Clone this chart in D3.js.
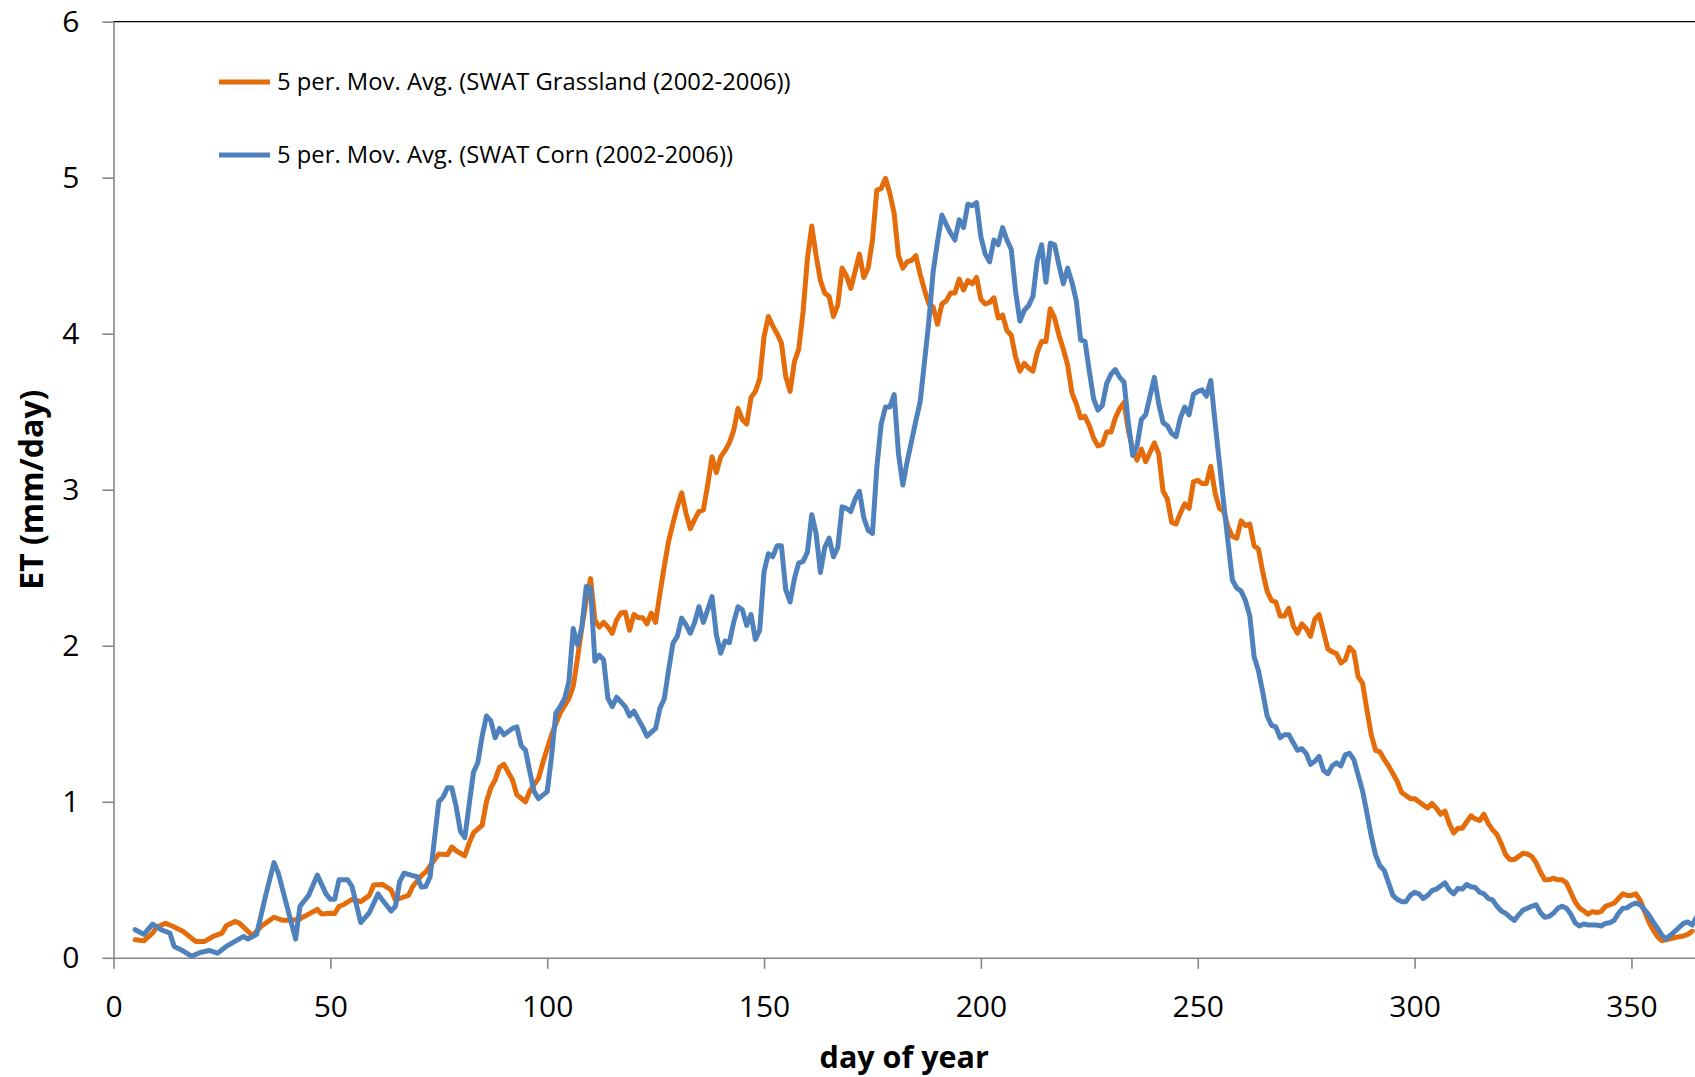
<!DOCTYPE html>
<html>
<head>
<meta charset="utf-8">
<script src="https://cdn.jsdelivr.net/npm/d3@7"></script>
<style>
  body { margin: 0; background: #fff; }
  text { font-family: "Open Sans", "Noto Sans", sans-serif; fill: #000; }
</style>
</head>
<body>
<div id="chart"></div>
<script>
// Set dimensions
const width = 1695;
const height = 1077;

// 5-day moving averages: [day of year, ET mm/day]
const grassland = [[5,0.115],[7,0.109],[9,0.158],[10,0.197],[12,0.222],[14,0.197],[16,0.17],[18,0.126],[19,0.105],[21,0.105],
  [23,0.137],[25,0.158],[26,0.205],[28,0.233],[29,0.222],[31,0.17],[32,0.141],[34,0.2],[37,0.26],[39,0.24],
  [41,0.24],[43,0.25],[45,0.28],[47,0.31],[48,0.28],[50,0.285],[51,0.284],[52,0.33],[53,0.34],[55,0.375],
  [57,0.36],[59,0.4],[60,0.467],[62,0.47],[64,0.435],[65,0.37],[66,0.38],[68,0.4],[69,0.457],[71,0.526],
  [72,0.55],[74,0.628],[75,0.665],[77,0.66],[78,0.71],[79,0.686],[81,0.654],[82,0.735],[83,0.8],[85,0.85],
  [86,1.0],[87,1.09],[88,1.14],[89,1.22],[90,1.24],[92,1.14],[93,1.045],[95,1.0],[96,1.07],[98,1.15],
  [99,1.25],[100,1.34],[101,1.43],[102,1.5],[103,1.57],[105,1.66],[106,1.74],[107,1.92],[108,2.12],[109,2.29],
  [110,2.43],[111,2.165],[112,2.12],[113,2.15],[114,2.12],[115,2.08],[116,2.165],[117,2.21],[118,2.215],[119,2.1],
  [120,2.2],[121,2.18],[122,2.18],[123,2.14],[124,2.21],[125,2.15],[126,2.336],[127,2.51],[128,2.67],[129,2.785],
  [130,2.89],[131,2.98],[132,2.85],[133,2.75],[134,2.81],[135,2.86],[136,2.87],[137,3.03],[138,3.21],[139,3.11],
  [140,3.21],[141,3.25],[142,3.3],[143,3.38],[144,3.52],[145,3.45],[146,3.42],[147,3.59],[148,3.63],[149,3.71],
  [150,3.98],[151,4.11],[152,4.05],[153,4.0],[154,3.94],[155,3.726],[156,3.63],[157,3.82],[158,3.9],[159,4.14],
  [160,4.48],[161,4.69],[162,4.5],[163,4.34],[164,4.26],[165,4.24],[166,4.11],[167,4.185],[168,4.42],[169,4.37],
  [170,4.29],[171,4.4],[172,4.51],[173,4.36],[174,4.42],[175,4.6],[176,4.92],[177,4.93],[178,4.996],[179,4.9],
  [180,4.77],[181,4.5],[182,4.42],[183,4.46],[184,4.47],[185,4.5],[186,4.38],[187,4.28],[188,4.19],[189,4.17],
  [190,4.06],[191,4.19],[192,4.21],[193,4.26],[194,4.26],[195,4.35],[196,4.28],[197,4.34],[198,4.32],[199,4.36],
  [200,4.22],[201,4.19],[202,4.2],[203,4.23],[204,4.1],[205,4.12],[206,4.02],[207,3.99],[208,3.85],[209,3.76],
  [210,3.81],[211,3.78],[212,3.76],[213,3.88],[214,3.95],[215,3.95],[216,4.16],[217,4.1],[218,3.99],[219,3.9],
  [220,3.8],[221,3.62],[222,3.55],[223,3.46],[224,3.47],[225,3.41],[226,3.33],[227,3.28],[228,3.29],[229,3.37],
  [230,3.37],[231,3.46],[232,3.52],[233,3.56],[234,3.38],[235,3.26],[236,3.19],[237,3.26],[238,3.18],[239,3.24],
  [240,3.3],[241,3.23],[242,2.99],[243,2.94],[244,2.79],[245,2.78],[246,2.85],[247,2.91],[248,2.88],[249,3.05],
  [250,3.06],[251,3.04],[252,3.04],[253,3.15],[254,2.98],[255,2.88],[256,2.86],[257,2.76],[258,2.7],[259,2.69],
  [260,2.8],[261,2.77],[262,2.78],[263,2.64],[264,2.62],[265,2.47],[266,2.35],[267,2.29],[268,2.28],[269,2.19],
  [270,2.19],[271,2.24],[272,2.13],[273,2.08],[274,2.14],[275,2.11],[276,2.06],[277,2.17],[278,2.2],[279,2.09],
  [280,1.98],[281,1.96],[282,1.95],[283,1.89],[284,1.91],[285,1.99],[286,1.96],[287,1.8],[288,1.76],[289,1.59],
  [290,1.43],[291,1.33],[292,1.32],[293,1.27],[294,1.23],[295,1.18],[296,1.13],[297,1.06],[298,1.04],[299,1.02],
  [300,1.02],[301,1.0],[302,0.98],[303,0.96],[304,0.99],[305,0.96],[306,0.92],[307,0.94],[308,0.86],[309,0.8],
  [310,0.83],[311,0.83],[312,0.87],[313,0.91],[314,0.89],[315,0.88],[316,0.92],[317,0.86],[318,0.82],[319,0.79],
  [320,0.73],[321,0.66],[322,0.63],[323,0.63],[324,0.65],[325,0.67],[326,0.665],[327,0.65],[328,0.61],[329,0.55],
  [330,0.5],[331,0.5],[332,0.51],[333,0.5],[334,0.5],[335,0.48],[336,0.42],[337,0.36],[338,0.32],[339,0.3],
  [340,0.28],[341,0.296],[342,0.29],[343,0.296],[344,0.33],[345,0.34],[346,0.35],[347,0.38],[348,0.41],[349,0.4],
  [350,0.4],[351,0.41],[352,0.37],[353,0.3],[354,0.23],[355,0.18],[356,0.135],[357,0.11],[358,0.115],[360,0.13],
  [361,0.135],[362,0.14],[363,0.15],[364,0.17]];

const corn = [[5,0.18],[7,0.15],[9,0.216],[11,0.18],[13,0.158],[14,0.073],[16,0.045],[18,0.01],[20,0.034],[22,0.047],
  [24,0.03],[26,0.073],[28,0.105],[30,0.137],[31,0.12],[33,0.15],[35,0.39],[37,0.61],[38,0.543],[40,0.33],
  [42,0.12],[43,0.33],[45,0.4],[47,0.53],[49,0.41],[50,0.375],[51,0.375],[52,0.5],[54,0.5],[55,0.457],
  [57,0.226],[59,0.29],[61,0.41],[62,0.37],[64,0.3],[65,0.33],[66,0.49],[67,0.543],[69,0.526],[70,0.52],
  [71,0.453],[72,0.457],[73,0.52],[75,1.0],[76,1.03],[77,1.09],[78,1.09],[79,0.97],[80,0.81],[81,0.77],
  [83,1.19],[84,1.25],[85,1.42],[86,1.55],[87,1.52],[88,1.41],[89,1.47],[90,1.43],[92,1.47],[93,1.48],
  [94,1.36],[95,1.33],[96,1.19],[97,1.065],[98,1.02],[100,1.065],[101,1.29],[102,1.57],[103,1.61],[104,1.66],
  [105,1.77],[106,2.11],[107,2.005],[108,2.12],[109,2.38],[110,2.37],[111,1.9],[112,1.94],[113,1.91],[114,1.663],
  [115,1.61],[116,1.67],[117,1.64],[118,1.61],[119,1.55],[120,1.58],[122,1.48],[123,1.42],[125,1.47],[126,1.6],
  [127,1.66],[128,1.845],[129,2.016],[130,2.06],[131,2.177],[132,2.134],[133,2.08],[134,2.15],[135,2.25],[136,2.15],
  [137,2.23],[138,2.315],[139,2.07],[140,1.952],[141,2.03],[142,2.02],[143,2.15],[144,2.25],[145,2.23],[146,2.13],
  [147,2.2],[148,2.04],[149,2.1],[150,2.475],[151,2.59],[152,2.57],[153,2.64],[154,2.64],[155,2.36],[156,2.28],
  [157,2.43],[158,2.53],[159,2.54],[160,2.6],[161,2.84],[162,2.72],[163,2.47],[164,2.63],[165,2.69],[166,2.57],
  [167,2.63],[168,2.89],[169,2.88],[170,2.86],[171,2.94],[172,2.99],[173,2.82],[174,2.74],[175,2.72],[176,3.14],
  [177,3.42],[178,3.53],[179,3.53],[180,3.61],[181,3.23],[182,3.03],[183,3.18],[184,3.31],[185,3.44],[186,3.565],
  [187,3.82],[188,4.08],[189,4.4],[190,4.59],[191,4.76],[192,4.7],[193,4.645],[194,4.6],[195,4.73],[196,4.68],
  [197,4.83],[198,4.82],[199,4.84],[200,4.62],[201,4.51],[202,4.46],[203,4.6],[204,4.57],[205,4.68],[206,4.6],
  [207,4.54],[208,4.27],[209,4.08],[210,4.15],[211,4.18],[212,4.24],[213,4.47],[214,4.57],[215,4.33],[216,4.58],
  [217,4.57],[218,4.44],[219,4.32],[220,4.42],[221,4.33],[222,4.21],[223,3.96],[224,3.95],[225,3.76],[226,3.58],
  [227,3.51],[228,3.54],[229,3.68],[230,3.74],[231,3.77],[232,3.72],[233,3.69],[234,3.43],[235,3.22],[236,3.28],
  [237,3.45],[238,3.48],[239,3.6],[240,3.72],[241,3.55],[242,3.43],[243,3.41],[244,3.36],[245,3.34],[246,3.46],
  [247,3.53],[248,3.48],[249,3.61],[250,3.63],[251,3.64],[252,3.6],[253,3.7],[254,3.43],[255,3.17],[256,2.91],
  [257,2.66],[258,2.42],[259,2.37],[260,2.35],[261,2.29],[262,2.19],[263,1.93],[264,1.84],[265,1.7],[266,1.55],
  [267,1.49],[268,1.48],[269,1.41],[270,1.43],[271,1.43],[272,1.38],[273,1.33],[274,1.34],[275,1.31],[276,1.24],
  [277,1.26],[278,1.29],[279,1.2],[280,1.18],[281,1.23],[282,1.25],[283,1.23],[284,1.3],[285,1.31],[286,1.27],
  [287,1.17],[288,1.07],[289,0.93],[290,0.78],[291,0.66],[292,0.59],[293,0.56],[294,0.48],[295,0.4],[296,0.375],
  [297,0.36],[298,0.36],[299,0.4],[300,0.42],[301,0.41],[302,0.38],[303,0.4],[304,0.43],[305,0.44],[306,0.46],
  [307,0.48],[308,0.435],[309,0.41],[310,0.445],[311,0.44],[312,0.47],[313,0.455],[314,0.45],[315,0.42],[316,0.41],
  [317,0.38],[318,0.37],[319,0.33],[320,0.3],[321,0.285],[322,0.26],[323,0.24],[324,0.275],[325,0.306],[326,0.317],
  [327,0.33],[328,0.34],[329,0.29],[330,0.26],[331,0.265],[332,0.285],[333,0.317],[334,0.33],[335,0.317],[336,0.28],
  [337,0.225],[338,0.204],[339,0.217],[340,0.21],[341,0.21],[342,0.21],[343,0.204],[344,0.22],[345,0.225],[346,0.24],
  [347,0.285],[348,0.317],[349,0.32],[350,0.34],[351,0.35],[352,0.34],[353,0.31],[354,0.275],[355,0.23],[356,0.19],
  [357,0.146],[358,0.12],[359,0.146],[360,0.17],[361,0.195],[362,0.22],[363,0.23],[364,0.21],[365,0.26]];

const xTicks = [0, 50, 100, 150, 200, 250, 300, 350];
const yTicks = [0, 1, 2, 3, 4, 5, 6];

const seriesNames = ["5 per. Mov. Avg. (SWAT Grassland (2002-2006))", "5 per. Mov. Avg. (SWAT Corn (2002-2006))"];
const seriesColors = ["#E46C0A", "#4F81BD"];

const x = d3.scaleLinear().domain([0, 365]).range([113.5, 1696.5]);
const y = d3.scaleLinear().domain([0, 6]).range([957.8, 21.6]);

const svg = d3.select("#chart")
  .append("svg")
  .attr("width", width)
  .attr("height", height)
  .attr("viewBox", [0, 0, width, height]);

const axisGray = "#868686";

// top border of plot area
svg.append("line")
  .attr("x1", x(0)).attr("x2", x(365))
  .attr("y1", y(6)).attr("y2", y(6))
  .attr("stroke", "#000")
  .attr("stroke-width", 1.3);

// y axis
const gy = svg.append("g")
  .attr("transform", `translate(${x(0)},0)`)
  .call(d3.axisLeft(y).tickValues(yTicks).tickFormat(d3.format("d"))
    .tickSize(11).tickSizeOuter(0).tickPadding(23));
gy.select(".domain").attr("stroke", axisGray).attr("stroke-width", 1.6);
gy.selectAll(".tick line").attr("stroke", axisGray).attr("stroke-width", 1.6);
gy.selectAll(".tick text").attr("font-size", 30).attr("font-family", "Open Sans");

// x axis
const gx = svg.append("g")
  .attr("transform", `translate(0,${y(0)})`)
  .call(d3.axisBottom(x).tickValues(xTicks).tickFormat(d3.format("d"))
    .tickSize(11).tickSizeOuter(0).tickPadding(27));
gx.select(".domain").attr("stroke", axisGray).attr("stroke-width", 1.6);
gx.selectAll(".tick line").attr("stroke", axisGray).attr("stroke-width", 1.6);
gx.selectAll(".tick text").attr("font-size", 30).attr("font-family", "Open Sans");

// axis titles
svg.append("text")
  .attr("x", (x(0) + width) / 2)
  .attr("y", 1068)
  .attr("text-anchor", "middle")
  .attr("font-size", 30.5)
  .attr("font-weight", "bold")
  .text("day of year");

svg.append("text")
  .attr("transform", `translate(43,${(y(0) + y(6)) / 2}) rotate(-90)`)
  .attr("text-anchor", "middle")
  .attr("font-size", 32)
  .attr("font-weight", "bold")
  .text("ET (mm/day)");

// lines
const line = d3.line()
  .x(d => x(d[0]))
  .y(d => y(d[1]));

const plot = svg.append("g");

[grassland, corn].forEach((data, i) => {
  plot.append("path")
    .datum(data)
    .attr("fill", "none")
    .attr("stroke", seriesColors[i])
    .attr("stroke-width", 5)
    .attr("stroke-linejoin", "round")
    .attr("stroke-linecap", "round")
    .attr("d", line);
});

// legend
const legend = svg.append("g")
  .selectAll("g")
  .data(seriesNames)
  .join("g")
  .attr("transform", (d, i) => `translate(219,${82 + i * 73})`);

legend.append("line")
  .attr("x1", 0).attr("x2", 51)
  .attr("stroke", (d, i) => seriesColors[i])
  .attr("stroke-width", 5);

legend.append("text")
  .attr("x", 58)
  .attr("dy", "0.35em")
  .attr("font-size", 23.8)
  .text(d => d);
</script>
</body>
</html>
